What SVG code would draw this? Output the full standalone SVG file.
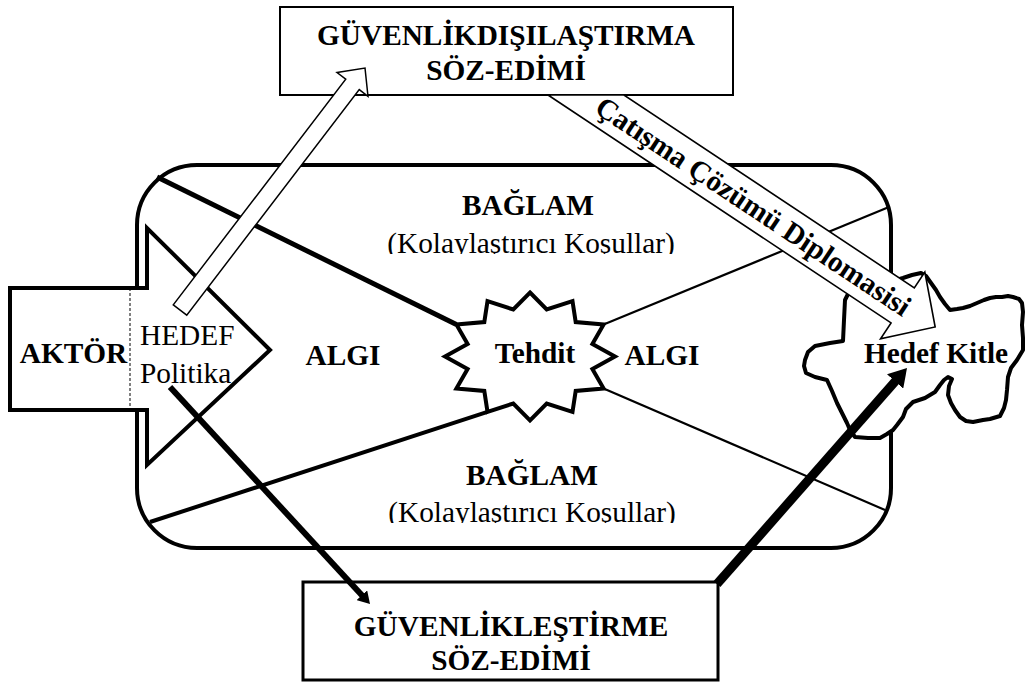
<svg xmlns="http://www.w3.org/2000/svg" width="1025" height="682" viewBox="0 0 1025 682">
  <style>
    .t{font-family:"Liberation Serif","Times New Roman",serif;font-size:29.33px;fill:#000}
    .b{font-weight:bold}
    .m{text-anchor:middle}
    .sh{fill:#fff;stroke:#000}
    .ln{fill:none;stroke:#000}
  </style>
  <defs>
    <marker id="head" viewBox="0 0 10 12" refX="2" refY="6" markerWidth="2" markerHeight="2.4" orient="auto" markerUnits="strokeWidth">
      <path d="M0,0 L10,6 L0,12 Z" fill="#000"/>
    </marker>
    <clipPath id="clipUpper" clipPathUnits="userSpaceOnUse"><rect x="300" y="220" width="460" height="34"/></clipPath>
    <clipPath id="clipLower" clipPathUnits="userSpaceOnUse"><rect x="300" y="490" width="460" height="33"/></clipPath>
  </defs>

  <rect width="1025" height="682" fill="#fff"/>

  <!-- context frame with its labels -->
  <g id="context">
    <rect class="sh" x="137" y="165" width="754" height="383" rx="60" ry="60" stroke-width="4"/>
    <text class="t b m" x="528" y="215">BAĞLAM</text>
    <text class="t m" x="531" y="253" clip-path="url(#clipUpper)">(Kolaylaştırıcı Koşullar)</text>
    <text class="t b m" x="532" y="485">BAĞLAM</text>
    <text class="t m" x="532" y="522" clip-path="url(#clipLower)">(Kolaylaştırıcı Koşullar)</text>
    <text class="t b m" x="343" y="365">ALGI</text>
    <text class="t b m" x="662" y="365">ALGI</text>
  </g>

  <!-- threat burst -->
  <g id="threat">
    <polygon class="sh" stroke-width="4" points="530,292.5 546.7,309.5 572.5,301.1 575.7,322.1 603.6,324.5 592.4,343.9 615,356.5 592.4,369.1 603.6,388.5 575.7,390.9 572.5,411.9 546.7,403.5 530,420.5 513.3,403.5 487.5,411.9 484.3,390.9 456.4,388.5 467.6,369.1 445,356.5 467.6,343.9 456.4,324.5 484.3,322.1 487.5,301.1 513.3,309.5"/>
    <text class="t b m" x="535" y="363">Tehdit</text>
  </g>

  <!-- actor block arrow -->
  <g id="actor">
    <polygon class="sh" stroke-width="4" points="10,288 147,288 147,228 270,350 147,465 147,410 10,410"/>
    <line x1="130" y1="288" x2="130" y2="410" stroke="#000" stroke-width="1" stroke-dasharray="3,2"/>
    <text class="t b m" x="73.5" y="363">AKTÖR</text>
    <text class="t" x="140" y="345">HEDEF</text>
    <text class="t" x="140" y="383">Politika</text>
  </g>

  <!-- audience outline -->
  <g id="audience">
    <path class="sh" stroke-width="4" stroke-linejoin="round" d="M845,300 L848,294 L858,291 L875,287 L890,282 L903,278 L912,275 L921,273 L926,276 L931,283 L936,290 L940,297 L945,304 L950,310 L957,309 L963,308 L970,306 L977,303 L984,300 L990,298 L996,297 L1002,297 L1008,296 L1013,297 L1019,299 L1022,303 L1023,312 L1022,325 L1023,338 L1023,350 L1017,360 L1011,368 L1008,377 L1007,390 L1006,400 L1004,408 L1000,416 L990,419 L983,420 L973,422 L966,421 L960,417 L955,410 L951,403 L948,395 L949,386 L952,379 L948,377 L944,380 L940,385 L935,392 L925,398 L913,402 L906,409 L903,417 L897,425 L893,430 L887,434 L880,438 L868,438 L855,437 L850,430 L847,423 L842,413 L837,403 L832,391 L827,380 L815,377 L806,373 L804,366 L805,360 L808,352 L815,346 L830,343 L843,341 L844,320 Z"/>
    <text class="t b m" x="936" y="363">Hedef Kitle</text>
  </g>

  <!-- desecuritization speech act -->
  <g id="desecuritization">
    <rect class="sh" x="280" y="7" width="453" height="88" stroke-width="2"/>
    <text class="t b m" x="506" y="45">GÜVENLİKDIŞILAŞTIRMA</text>
    <text class="t b m" x="506" y="80">SÖZ-EDİMİ</text>
  </g>

  <!-- securitization speech act -->
  <g id="securitization">
    <rect class="sh" x="303" y="582" width="415" height="98" stroke-width="3"/>
    <text class="t b m" x="511" y="636">GÜVENLİKLEŞTİRME</text>
    <text class="t b m" x="511" y="670">SÖZ-EDİMİ</text>
  </g>

  <g id="connectors">
    <!-- perception lines meeting the threat -->
    <line class="ln" x1="157" y1="177" x2="456.4" y2="324.5" stroke-width="5"/>
    <line class="ln" x1="150" y1="522" x2="487.5" y2="411.9" stroke-width="4"/>
    <line class="ln" x1="603.6" y1="324.5" x2="889" y2="207" stroke-width="2.2"/>
    <line class="ln" x1="603.6" y1="388.5" x2="885" y2="510" stroke-width="2.2"/>

    <!-- conflict resolution diplomacy block arrow -->
    <g transform="translate(543.7,66.9) rotate(33.6)">
      <polygon class="sh" stroke-width="1.6" points="19.1,21 82.4,-21 431,-21 431,-40 470,0 431,40 431,21"/>
      <text class="t b" x="66" y="10">Çatışma Çözümü Diplomasisi</text>
    </g>

    <!-- policy to desecuritization -->
    <g transform="translate(180,310) rotate(-52.6)">
      <polygon class="sh" stroke-width="1.5" points="0,-8.5 284,-8.5 284,-19.5 304.6,0 284,19.5 284,8.5 0,8.5"/>
    </g>

    <!-- securitization to audience -->
    <line class="ln" x1="717" y1="584" x2="897.5" y2="378.8" stroke-width="9" marker-end="url(#head)"/>

    <!-- policy to securitization -->
    <line class="ln" x1="170" y1="387" x2="363.5" y2="597" stroke-width="6" marker-end="url(#head)"/>
  </g>
</svg>
